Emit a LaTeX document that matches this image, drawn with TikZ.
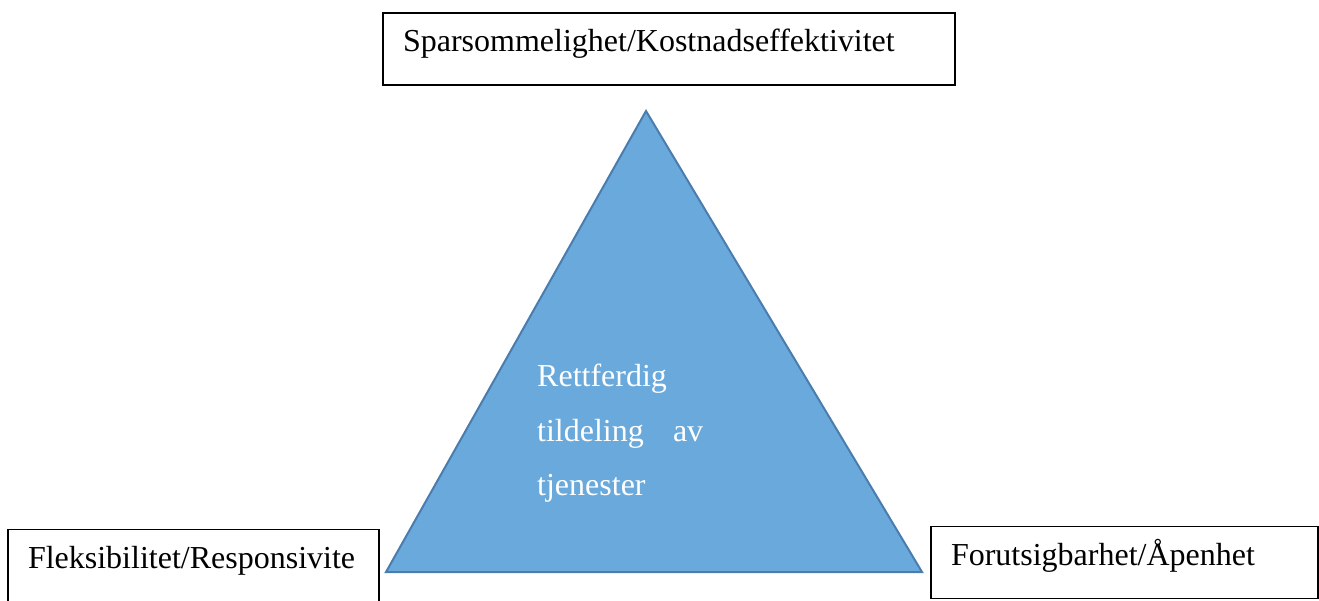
\documentclass[tikz,border=0pt]{standalone}
\usepackage{fontspec}
\setmainfont{Liberation Serif}
\definecolor{skyfill}{HTML}{6AA9DB}
\definecolor{skyedge}{HTML}{4A7DAE}

\begin{document}
\begin{tikzpicture}[x=1pt,y=-1pt,every node/.style={font=\fontsize{32}{38}\selectfont},
 box/.style={draw=black,line width=1.2pt,inner xsep=20pt,inner ysep=0pt,align=left,text height=22pt,text depth=17pt,minimum height=72pt},
 tri/.style={fill=skyfill,draw=skyedge,line width=2pt,line join=miter}]
\useasboundingbox (0,0) rectangle (1319,601);
\clip (0,0) rectangle (1319,601);
\node[box,text width=532pt] (cost) at (669,49) {Sparsommelighet/Kostnadseffektivitet};
\node[box,text width=331pt] (flex) at (193.5,565.5) {Fleksibilitet/Responsivite};
\node[box,text width=347pt] (open) at (1124.5,562.5) {Forutsigbarhet/Åpenhet};
\coordinate (apex) at (646,111);
\coordinate (left) at (386,572);
\coordinate (right) at (922,572);
\draw[tri] (apex)--(left)--(right)--cycle;
\node[anchor=north west,inner sep=0pt,text=white,text width=166pt,align=left,
 font=\fontsize{32}{54.5}\selectfont] (fair) at (537,364) {Rettferdig\\tildeling\hfill av\\tjenester};
\end{tikzpicture}
\end{document}
